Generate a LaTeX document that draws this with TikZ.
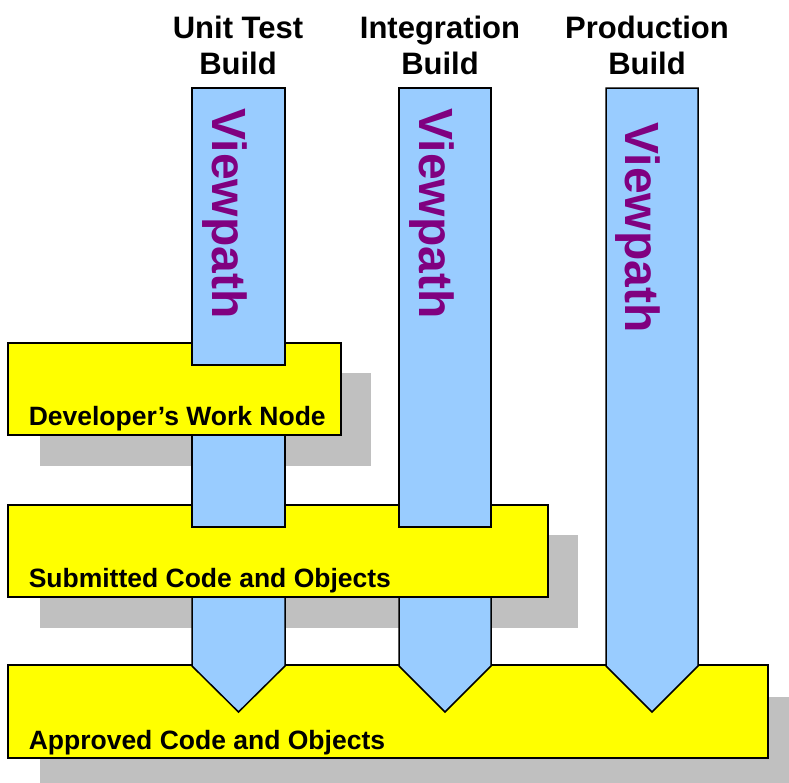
\documentclass[tikz,border=0pt]{standalone}
\usepackage{fontspec}
\setmainfont{Liberation Sans}
\usepackage{tikz}

\definecolor{boxyellow}{HTML}{FFFF00}
\definecolor{pathblue}{HTML}{99CCFF}
\definecolor{shadowgray}{HTML}{C0C0C0}
\definecolor{pathpurple}{HTML}{800080}

\begin{document}
\begin{tikzpicture}[x=1pt,y=-1pt, line width=1.5pt,
	shadow/.style={fill=shadowgray},
	box/.style={draw=black, fill=boxyellow},
	column/.style={draw=black, fill=pathblue, line join=miter},
	viewpath/.style={rotate=-90, anchor=base west, inner sep=0pt, text=pathpurple,
		font=\bfseries\fontsize{48}{48}\selectfont},
	boxlabel/.style={anchor=base west, inner sep=0pt, font=\bfseries\fontsize{26.5}{30}\selectfont},
	buildtitle/.style={anchor=north, inner sep=0pt, align=center,
		font=\bfseries\fontsize{31}{36}\selectfont}]
	\clip (0,0) rectangle (789,782);

	% Approved box
	\fill[shadow] (40,697) rectangle (800,790);
	\draw[box] (8,665) rectangle (768,758);

	% Submitted box shadow, lower arrows
	\fill[shadow] (40,535) rectangle (578,628);
	\draw[column] (192,560) -- (285,560) -- (285,666) -- (238.5,712) -- (192,666) -- cycle;
	\draw[column] (399,560) -- (491,560) -- (491,666) -- (445,712) -- (399,666) -- cycle;
	\draw[column] (606,88) -- (698,88) -- (698,666) -- (652,712) -- (606,666) -- cycle;

	% Submitted box
	\draw[box] (8,505) rectangle (548,597);
	\draw[column] (399,88) rectangle (491,527);

	% Developer box
	\fill[shadow] (40,373) rectangle (371,466);
	\draw[column] (192,420) rectangle (285,527);
	\draw[box] (8,343) rectangle (341,435);
	\draw[column] (192,88) rectangle (285,365);

	% viewpaths
	\node[viewpath] (v1) at (212,108) {Viewpath};
	\node[viewpath] (v2) at (419,108) {Viewpath};
	\node[viewpath] (v3) at (625,122) {Viewpath};

	% labels
	\node[boxlabel] (dev) at (28,425) {Developer’s Work Node};
	\node[boxlabel] (sub) at (28,587) {Submitted Code and Objects};
	\node[boxlabel] (app) at (28,749) {Approved Code and Objects};

	% builds
	\node[buildtitle] (b1) at (238,15) {Unit Test\\Build};
	\node[buildtitle] (b2) at (440,15) {Integration\\Build};
	\node[buildtitle] (b3) at (647,15) {Production\\Build};
\end{tikzpicture}
\end{document}
